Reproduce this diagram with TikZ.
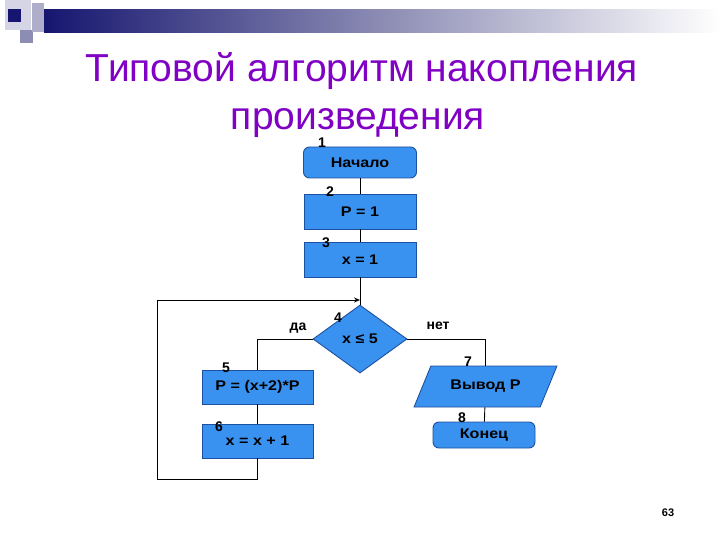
\documentclass[tikz,border=0pt]{standalone}
\usepackage{fontspec}
\setmainfont{Liberation Sans}
\usetikzlibrary{shapes.geometric,positioning,arrows.meta}
\definecolor{boxblue}{RGB}{58,146,240}
\definecolor{boxedge}{RGB}{30,80,160}
\definecolor{barnavy}{RGB}{22,22,112}
\definecolor{barmid}{RGB}{140,140,180}
\definecolor{titlepurple}{RGB}{128,0,196}
\newcommand\wide[1]{\scalebox{1.15}[1]{#1}}
\tikzset{
  blockbox/.style={draw=boxedge,fill=boxblue,minimum width=111pt,minimum height=34pt,inner sep=0pt,font=\bfseries\fontsize{14}{16}\selectfont},
  termbox/.style={blockbox,rounded corners=6pt},
  ifbox/.style={blockbox,diamond,aspect=1.38,minimum width=94pt,minimum height=68pt},
  iobox/.style={blockbox,trapezium,trapezium left angle=49,trapezium right angle=131,trapezium stretches=true,minimum width=143pt,minimum height=41pt},
  numlabel/.style={font=\bfseries\fontsize{14}{16}\selectfont,inner sep=0pt},
  titletext/.style={anchor=base,text=titlepurple,font=\fontsize{39}{46}\selectfont},
  every edge/.style={draw,line width=0.9pt},
}

\begin{document}
\begin{tikzpicture}[x=1pt,y=-1pt,line width=0.9pt,node distance=48pt]
\useasboundingbox (0,0) rectangle (720,540);

% header decoration
\fill[barnavy!18] (5,0) rectangle (31,30);
\fill[barnavy] (8,9) rectangle (21,22);
\fill[barmid] (20,30) rectangle (33,43);
\fill[barmid!70] (32,3) rectangle (44,32);
\shade[left color=barnavy,right color=white,middle color=barmid] (44,10) rectangle (720,33);

% title
\node[titletext] (title1) at (362,82) {Типовой алгоритм накопления};
\node[titletext] (title2) at (358,130) {произведения};

% flowchart
\node[termbox,minimum width=113pt,minimum height=31pt] (start) at (360,162.5) {\wide{Начало}};
\node[blockbox,below of=start,node distance=49pt,minimum width=112pt,minimum height=35pt] (p1) {\wide{P = 1}};
\node[blockbox,below of=p1,minimum width=112pt,minimum height=35pt] (x1) {\wide{x = 1}};
\node[ifbox,below of=x1,node distance=79.5pt] (cond) {\wide{x ≤ 5}};
\node[blockbox] (mult) at (257.5,387) {\wide{P = (x+2)*P}};
\node[blockbox,below of=mult,node distance=54pt] (inc) {\wide{x = x + 1}};
\node[iobox] (out) at (485.5,386.5) {\wide{Вывод P}};
\node[termbox,minimum width=102pt,minimum height=26pt] (end) at (484,435) {\wide{Конец}};

\coordinate (loopin) at (360,300);
\coordinate (loopcorner) at (157,479);

\path
(start) edge (p1)
(p1) edge (x1)
(x1) edge (cond)
(mult) edge (inc)
(out) edge (end);
\draw (cond.west) -| (mult.north);
\draw (cond.east) -| (out.north);
\draw[-{Stealth[length=6pt,width=5pt]}] (inc.south) |- (loopcorner) |- (loopin);

% branch labels
\node[numlabel] (yes) at (298,328) {да};
\node[numlabel] (no) at (438,326) {нет};

% block numbers
\node[numlabel] (n1) at (322,143) {1};
\node[numlabel] (n2) at (330,192) {2};
\node[numlabel] (n3) at (326,243) {3};
\node[numlabel] (n4) at (338,318) {4};
\node[numlabel] (n5) at (226,368) {5};
\node[numlabel] (n6) at (219,427) {6};
\node[numlabel] (n7) at (468,362) {7};
\node[numlabel] (n8) at (462,418) {8};

% page number
\node[font=\bfseries\fontsize{11}{13}\selectfont] (page) at (668,513) {63};
\end{tikzpicture}
\end{document}
